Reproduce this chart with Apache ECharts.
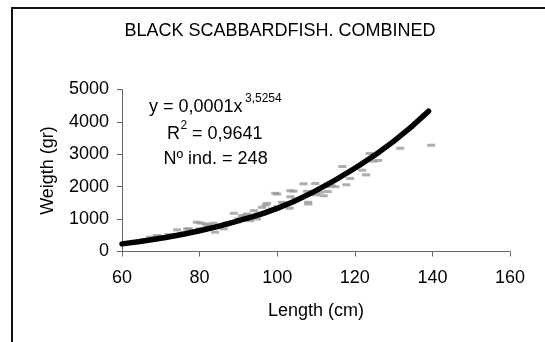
<!DOCTYPE html>
<html>
  <head>
    <meta charset="utf-8">
    <title>Black scabbardfish</title>
    <style>
        *{
            padding: 0;
            margin: 0;
        }
        body{
            width: 545px;
            height: 342px;
            background-color: #ffffff;
            position: relative;
            overflow: hidden;
        }
        .frame{
            position: absolute;
            left: 11px;
            top: 7px;
            width: 540px;
            height: 340px;
            border-top: 2px solid #111;
            border-left: 2px solid #111;
        }
        #chart{
            position: absolute;
            left: 0;
            top: 0;
            width: 545px;
            height: 342px;
        }
    </style>
  </head>
  <body>
    <div class="frame"></div>
    <div id="chart"></div>
    <script type="text/javascript" src="https://cdn.jsdelivr.net/npm/echarts@6/dist/echarts.min.js"></script>
    <script type="text/javascript">
        var fishLen = [62, 64, 65, 66, 67.3, 69, 69.4, 70, 71, 72, 73, 74.2, 75, 76, 76.8, 77.2, 78, 79, 79.3, 80, 80.2, 81, 81.5,
            82, 82.3, 83.6, 83.6, 84, 85, 86.2, 86.6, 87, 88, 88.8, 89.6, 90, 90.9, 91, 91.8, 92.2, 93, 94, 94.8, 95, 96.1, 97,
            97.4, 98, 98.7, 99.5, 100, 100, 101.2, 102.1, 103.2, 103.4, 103.4, 104.2, 104.7, 105, 106.8, 107.7, 108, 108, 109.8,
            110, 111, 112, 112.8, 113, 114, 115, 116.8, 117.8, 118.8, 121.9, 122.9, 123.8, 124.8, 126, 131.7, 139.7];
        var fishWgt = [270, 300, 330, 360, 442, 492, 460, 420, 440, 522, 480, 667, 520, 560, 698, 698, 600, 640, 903, 700, 880, 645, 851,
            760, 820, 873, 728, 596, 800, 698, 800, 873, 900, 1180, 903, 1005, 1106, 1000, 1106, 1158, 953, 1260, 1005, 1150, 1364, 1435,
            1487, 1250, 1312, 1795, 1773, 1380, 1518, 1466, 1334, 1690, 1875, 1865, 1620, 1600, 2090, 1856, 1466, 1518, 2100,
            1750, 1825, 1721, 2000, 1850, 2030, 2000, 2624, 2060, 2255, 2510, 2366, 3024, 2787, 2808, 3186, 3279];

        // fitted power curve
        var fitLen = [60, 70, 80, 90, 100, 110, 120, 130, 139];
        var fitWgt = [235, 410, 640, 950, 1330, 1880, 2570, 3400, 4330];

        var titleText = 'BLACK SCABBARDFISH. COMBINED';
        var eqText = 'y = 0,0001x';
        var eqExp = '3,5254';
        var r2Val = '= 0,9641';
        var nText = 'Nº ind. = 248';

        var pts = [];
        for (var i = 0; i < fishLen.length; i++) {
            pts.push([fishLen[i], fishWgt[i]]);
        }
        var fit = [];
        for (var j = 0; j < fitLen.length; j++) {
            fit.push([fitLen[j], fitWgt[j]]);
        }

        var font = 'Liberation Sans, Arial, sans-serif';
        var big = '18px Liberation Sans';
        var small = '12px Liberation Sans';
        function txt(x, y, s, f) {
            return { type: 'text', x: x, y: y, style: { text: s, font: f, fill: '#000', verticalAlign: 'middle' } };
        }

        var myChart = echarts.init(document.getElementById('chart'));
        var option = {
            animation: false,
            textStyle: { fontFamily: font },
            graphic: [
                { type: 'text', x: 280, y: 31.5, style: { text: titleText, font: big, fill: '#000', align: 'center', verticalAlign: 'middle' } },
                txt(149, 107.5, eqText, big),
                txt(245, 98.5, eqExp, small),
                txt(167, 134.5, 'R', big),
                txt(180.5, 125.5, '2', small),
                txt(192, 134.5, r2Val, big),
                txt(163.5, 158.7, nText, big)
            ],
            grid: { left: 122, right: 35, top: 89.5, bottom: 90.5 },
            xAxis: {
                type: 'value',
                min: 60,
                max: 160,
                interval: 20,
                name: 'Length (cm)',
                nameLocation: 'middle',
                nameGap: 51,
                nameTextStyle: { fontSize: 18, color: '#000' },
                axisLine: { lineStyle: { color: '#666', width: 1 } },
                axisTick: { show: true, length: 5, lineStyle: { color: '#666' } },
                axisLabel: { fontSize: 18, color: '#000', margin: 18 },
                splitLine: { show: false }
            },
            yAxis: {
                type: 'value',
                min: 0,
                max: 5000,
                interval: 1000,
                name: 'Weigth (gr)',
                nameLocation: 'middle',
                nameGap: 65,
                nameTextStyle: { fontSize: 18, color: '#000' },
                axisLine: { show: true, lineStyle: { color: '#666', width: 1 } },
                axisTick: { show: true, length: 5, lineStyle: { color: '#666' } },
                axisLabel: { fontSize: 18, color: '#000', margin: 13, formatter: function (v) { return String(v); } },
                splitLine: { show: false }
            },
            series: [
                {
                    type: 'scatter',
                    data: pts,
                    symbol: 'rect',
                    symbolSize: [8, 3],
                    itemStyle: { color: '#9a9a9a' },
                    z: 2
                },
                {
                    type: 'line',
                    data: fit,
                    smooth: true,
                    showSymbol: false,
                    lineStyle: { color: '#000', width: 5.5, cap: 'round' },
                    z: 3
                }
            ]
        };
        myChart.setOption(option);
    </script>
  </body>
</html>
